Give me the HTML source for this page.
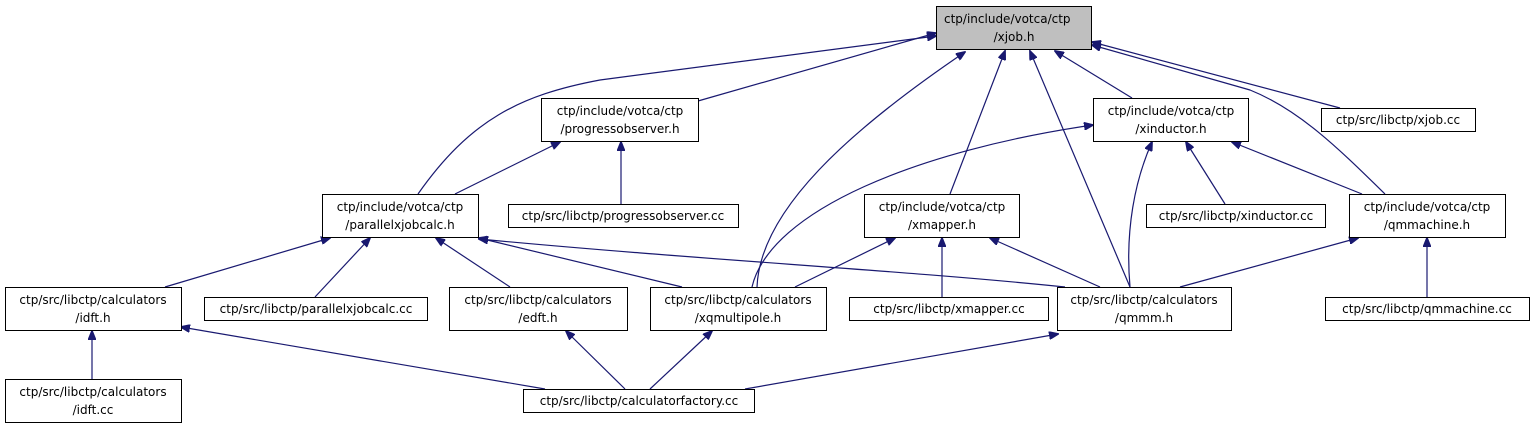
<!DOCTYPE html>
<html><head><meta charset="utf-8"><style>
html,body{margin:0;padding:0;background:#fff;}
svg text{font-family:"DejaVu Sans","Liberation Sans",sans-serif;font-size:12px;fill:#000;}
</style></head><body>
<svg width="1532" height="429" viewBox="0 0 1532 429" xmlns="http://www.w3.org/2000/svg">
<defs><marker id="a" markerWidth="10" markerHeight="8" refX="9" refY="4" orient="auto" markerUnits="userSpaceOnUse"><path d="M0,0 L10,4 L0,8 z" fill="#191970" stroke="#191970"/></marker></defs>
<g fill="none" stroke="#191970" stroke-width="1.2" marker-end="url(#a)">
<path d="M698,101 L936,33"/>
<path d="M418,194 C470,120 520,95 600,80 L936,36"/>
<path d="M757,287 C760,210 850,130 965,52"/>
<path d="M950,194 L1005,51"/>
<path d="M1130,287 L1030,51"/>
<path d="M1132,98 L1055,51"/>
<path d="M1340,108 L1092,42"/>
<path d="M1385,194 C1340,150 1300,110 1250,90 L1092,45"/>
<path d="M455,194 L560,142"/>
<path d="M621,204 L621,142"/>
<path d="M1225,204 L1186,142"/>
<path d="M1362,194 L1232,142"/>
<path d="M1130,287 C1125,230 1135,180 1152,142"/>
<path d="M752,287 C770,210 920,150 1093,125"/>
<path d="M165,287 L330,238"/>
<path d="M315,297 L370,238"/>
<path d="M510,287 L436,238"/>
<path d="M682,287 L479,238"/>
<path d="M1065,287 C900,270 700,260 479,239"/>
<path d="M795,287 L895,238"/>
<path d="M942,297 L942,238"/>
<path d="M1100,287 L990,238"/>
<path d="M1180,287 L1358,238"/>
<path d="M1427,297 L1427,238"/>
<path d="M92,379 L92,331"/>
<path d="M545,389 L181,327"/>
<path d="M625,389 L566,331"/>
<path d="M650,389 L712,331"/>
<path d="M745,389 L1058,334"/>
</g>
<g stroke="#000" stroke-width="1" fill="#fff">
<rect x="936.5" y="6.5" width="155" height="43" fill="#bfbfbf"/>
<rect x="541.5" y="98.5" width="157" height="43"/>
<rect x="1093.5" y="98.5" width="155" height="43"/>
<rect x="1321.5" y="108.5" width="154" height="23"/>
<rect x="322.5" y="194.5" width="156" height="43"/>
<rect x="508.5" y="204.5" width="230" height="23"/>
<rect x="864.5" y="194.5" width="155" height="43"/>
<rect x="1146.5" y="204.5" width="179" height="23"/>
<rect x="1349.5" y="194.5" width="156" height="43"/>
<rect x="5.5" y="287.5" width="176" height="43"/>
<rect x="204.5" y="297.5" width="223" height="23"/>
<rect x="449.5" y="287.5" width="178" height="43"/>
<rect x="650.5" y="287.5" width="176" height="43"/>
<rect x="849.5" y="297.5" width="199" height="23"/>
<rect x="1057.5" y="287.5" width="174" height="43"/>
<rect x="1325.5" y="297.5" width="204" height="23"/>
<rect x="5.5" y="379.5" width="176" height="43"/>
<rect x="523.5" y="389.5" width="231" height="23"/>
</g>
<g>
<text x="944" y="23">ctp/include/votca/ctp</text><text x="1014" y="41" text-anchor="middle">/xjob.h</text>
<text x="620" y="115" text-anchor="middle">ctp/include/votca/ctp</text><text x="620" y="133" text-anchor="middle">/progressobserver.h</text>
<text x="1171" y="115" text-anchor="middle">ctp/include/votca/ctp</text><text x="1171" y="133" text-anchor="middle">/xinductor.h</text>
<text x="1398" y="124" text-anchor="middle">ctp/src/libctp/xjob.cc</text>
<text x="400" y="211" text-anchor="middle">ctp/include/votca/ctp</text><text x="400" y="229" text-anchor="middle">/parallelxjobcalc.h</text>
<text x="623" y="220" text-anchor="middle">ctp/src/libctp/progressobserver.cc</text>
<text x="942" y="211" text-anchor="middle">ctp/include/votca/ctp</text><text x="942" y="229" text-anchor="middle">/xmapper.h</text>
<text x="1236" y="220" text-anchor="middle">ctp/src/libctp/xinductor.cc</text>
<text x="1427" y="211" text-anchor="middle">ctp/include/votca/ctp</text><text x="1427" y="229" text-anchor="middle">/qmmachine.h</text>
<text x="93" y="304" text-anchor="middle">ctp/src/libctp/calculators</text><text x="93" y="322" text-anchor="middle">/idft.h</text>
<text x="316" y="313" text-anchor="middle">ctp/src/libctp/parallelxjobcalc.cc</text>
<text x="538" y="304" text-anchor="middle">ctp/src/libctp/calculators</text><text x="538" y="322" text-anchor="middle">/edft.h</text>
<text x="738" y="304" text-anchor="middle">ctp/src/libctp/calculators</text><text x="738" y="322" text-anchor="middle">/xqmultipole.h</text>
<text x="949" y="313" text-anchor="middle">ctp/src/libctp/xmapper.cc</text>
<text x="1144" y="304" text-anchor="middle">ctp/src/libctp/calculators</text><text x="1144" y="322" text-anchor="middle">/qmmm.h</text>
<text x="1427" y="313" text-anchor="middle">ctp/src/libctp/qmmachine.cc</text>
<text x="93" y="396" text-anchor="middle">ctp/src/libctp/calculators</text><text x="93" y="414" text-anchor="middle">/idft.cc</text>
<text x="639" y="405" text-anchor="middle">ctp/src/libctp/calculatorfactory.cc</text>
</g>
</svg>
</body></html>
